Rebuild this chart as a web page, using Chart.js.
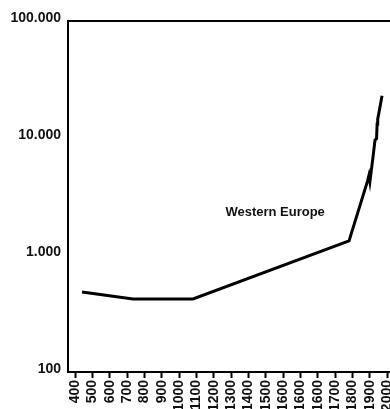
<!DOCTYPE html>
<html>
<head>
<meta charset="utf-8">
<script src="https://cdn.jsdelivr.net/npm/chart.js@4.4.1/dist/chart.umd.min.js"></script>
<style>
  html, body { margin: 0; padding: 0; background: #fff; overflow: hidden; width: 390px; height: 409px; }
  canvas { display: block; }
</style>
</head>
<body>
<canvas id="chart" width="400" height="409"></canvas>
<script>
// Tick labels along the time axis (evenly spaced marks)
const tickLabels = ['400', '500', '600', '700', '800', '900', '1000', '1100', '1200', '1300',
                    '1400', '1500', '1600', '1600', '1600', '1700', '1800', '1900', '2000'];
const tickStart = 400;
const tickEnd = 2000;

// GDP per capita, Western Europe (years and values)
const years = [436, 697, 1005, 1805, 1900, 1907, 1912, 1928, 1938, 1946, 1949, 1952, 1964, 1974];
const gdp   = [483, 421, 421, 1318, 4300, 4800, 4250, 6900, 9600, 9900, 13200, 14500, 18500, 23000];

// Logarithmic value axis ticks
const yTicks = [100, 1000, 10000, 100000];

// Series caption and where it sits (year, value)
const seriesName = 'Western Europe';
const captionYear = 1426;
const captionValue = 2290;

const fontFamily = '"Liberation Sans", Arial, Helvetica, sans-serif';

function thousands(v) {
  return String(Math.round(v)).replace(/\B(?=(\d{3})+(?!\d))/g, '.');
}

const frameTop = {
  id: 'frameTop',
  afterDraw(chart) {
    const { ctx, chartArea } = chart;
    ctx.save();
    ctx.strokeStyle = '#000';
    ctx.lineWidth = 2;
    ctx.beginPath();
    ctx.moveTo(chartArea.left - 1, chartArea.top);
    ctx.lineTo(chart.width, chartArea.top);
    ctx.stroke();
    ctx.restore();
  }
};

const caption = {
  id: 'caption',
  afterDatasetsDraw(chart) {
    const { ctx, scales } = chart;
    ctx.save();
    ctx.fillStyle = '#111';
    ctx.font = 'bold 13px ' + fontFamily;
    ctx.textAlign = 'center';
    ctx.textBaseline = 'middle';
    ctx.fillText(seriesName, scales.x.getPixelForValue(captionYear), scales.y.getPixelForValue(captionValue));
    ctx.restore();
  }
};

new Chart(document.getElementById('chart'), {
  type: 'line',
  data: {
    datasets: [{
      label: seriesName,
      data: years.map((yr, i) => ({ x: yr, y: gdp[i] })),
      borderColor: '#000',
      borderWidth: 3,
      pointRadius: 0,
      tension: 0,
      fill: false
    }]
  },
  options: {
    responsive: false,
    devicePixelRatio: 1,
    animation: false,
    layout: { padding: { top: 21, right: 10, left: 0, bottom: 0 } },
    plugins: { legend: { display: false }, tooltip: { enabled: false } },
    scales: {
      x: {
        type: 'linear',
        min: 364,
        max: 2015,
        afterBuildTicks(scale) {
          const n = tickLabels.length - 1;
          scale.ticks = tickLabels.map((_, i) => ({ value: tickStart + i * (tickEnd - tickStart) / n }));
        },
        afterFit(scale) {
          scale.height = 37;
          scale.paddingLeft = 0;
          scale.paddingRight = 0;
        },
        grid: {
          display: true,
          drawOnChartArea: false,
          drawTicks: true,
          tickLength: 6,
          tickWidth: 2,
          tickColor: '#000'
        },
        border: { display: true, color: '#000', width: 2 },
        ticks: {
          autoSkip: false,
          maxRotation: 90,
          minRotation: 90,
          padding: 2,
          color: '#111',
          font: { family: fontFamily, size: 14, weight: 'bold' },
          callback: (v, i) => tickLabels[i]
        }
      },
      y: {
        type: 'logarithmic',
        min: 100,
        max: 100000,
        afterBuildTicks(scale) {
          scale.ticks = yTicks.map(v => ({ value: v }));
        },
        afterFit(scale) { scale.width = 68; },
        grid: { display: false, drawTicks: false },
        border: { display: true, color: '#000', width: 2 },
        ticks: {
          padding: 7,
          labelOffset: -3,
          color: '#111',
          font: { family: fontFamily, size: 14, weight: 'bold' },
          callback: v => thousands(v)
        }
      }
    }
  },
  plugins: [frameTop, caption]
});
</script>
</body>
</html>
